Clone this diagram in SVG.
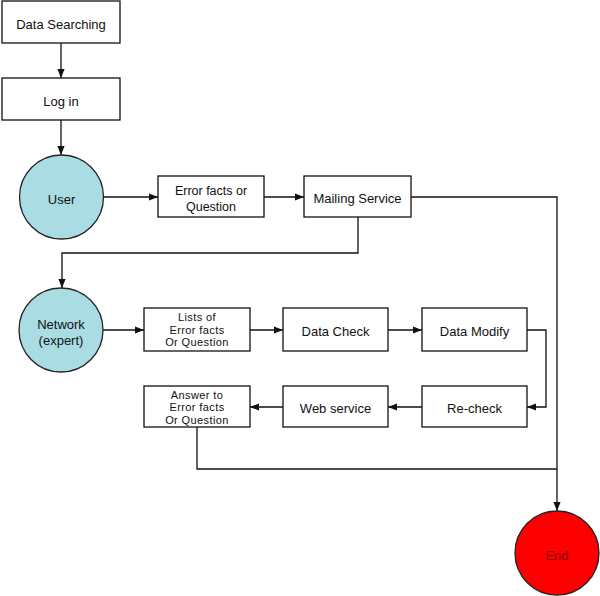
<svg xmlns="http://www.w3.org/2000/svg" width="600" height="596" viewBox="0 0 600 596">
<style>
.box{fill:#fff;stroke:#111;stroke-width:1.3}
.circ{fill:#a9dde3;stroke:#222;stroke-width:1.3}
.end{fill:#ff0000;stroke:#222;stroke-width:1.3}
.t{font-family:"Liberation Sans",Arial,sans-serif;font-size:13px;fill:#111;text-anchor:middle}
.s{font-size:12.5px}
.m{font-size:11px;letter-spacing:0.4px}
.c{fill:none;stroke:#111;stroke-width:1.3}
</style>
<defs>
<marker id="arr" viewBox="0 0 10 10" refX="10" refY="5" markerWidth="9" markerHeight="9" markerUnits="userSpaceOnUse" orient="auto">
<path d="M0,1 L10,5 L0,9 Z" fill="#111"/>
</marker>
</defs>
<rect width="600" height="596" fill="#fff"/>
<g id="connectors">
<path class="c" d="M61,43 V78" marker-end="url(#arr)"/>
<path class="c" d="M61,120 V155" marker-end="url(#arr)"/>
<path class="c" d="M104,197 H158" marker-end="url(#arr)"/>
<path class="c" d="M264,197 H304" marker-end="url(#arr)"/>
<path class="c" d="M411,197 H557 V511" marker-end="url(#arr)"/>
<path class="c" d="M358,217 V253 H62 V288" marker-end="url(#arr)"/>
<path class="c" d="M103,330 H144" marker-end="url(#arr)"/>
<path class="c" d="M250,330 H283" marker-end="url(#arr)"/>
<path class="c" d="M388,330 H422" marker-end="url(#arr)"/>
<path class="c" d="M527,330 H546 V407 H527" marker-end="url(#arr)"/>
<path class="c" d="M422,407 H388" marker-end="url(#arr)"/>
<path class="c" d="M283,407 H250" marker-end="url(#arr)"/>
<path class="c" d="M197,427 V469 H557"/>
</g>
<g id="data-searching"><rect class="box" x="2" y="1" width="118" height="42"/><text class="t" x="61" y="29">Data Searching</text></g>
<g id="log-in"><rect class="box" x="2" y="78" width="118" height="42"/><text class="t" x="61" y="106">Log in</text></g>
<g id="user"><circle class="circ" cx="61.5" cy="197" r="42"/><text class="t" x="61.5" y="204">User</text></g>
<g id="error-facts"><rect class="box" x="158" y="176" width="106" height="41"/><text class="t s" x="211" y="195">Error facts or</text><text class="t s" x="211" y="211">Question</text></g>
<g id="mailing-service"><rect class="box" x="304" y="176" width="107" height="41"/><text class="t" x="357.5" y="203">Mailing Service</text></g>
<g id="network"><circle class="circ" cx="61" cy="330" r="42"/><text class="t" x="61" y="329">Network</text><text class="t" x="61" y="345">(expert)</text></g>
<g id="lists"><rect class="box" x="144" y="308" width="106" height="43"/><text class="t m" x="197" y="321">Lists of</text><text class="t m" x="197" y="333.5">Error facts</text><text class="t m" x="197" y="346">Or Question</text></g>
<g id="data-check"><rect class="box" x="283" y="308" width="105" height="43"/><text class="t" x="335.5" y="336">Data Check</text></g>
<g id="data-modify"><rect class="box" x="422" y="308" width="105" height="43"/><text class="t" x="474.5" y="336">Data Modify</text></g>
<g id="re-check"><rect class="box" x="422" y="386" width="105" height="41"/><text class="t" x="474.5" y="413">Re-check</text></g>
<g id="web-service"><rect class="box" x="283" y="386" width="105" height="41"/><text class="t" x="335.5" y="413">Web service</text></g>
<g id="answer"><rect class="box" x="144" y="386" width="106" height="41"/><text class="t m" x="197" y="398.5">Answer to</text><text class="t m" x="197" y="411">Error facts</text><text class="t m" x="197" y="423.5">Or Question</text></g>
<g id="end"><circle class="end" cx="557" cy="553" r="42"/><text class="t" x="557" y="560" style="fill:#7a0000">End</text></g>
</svg>
